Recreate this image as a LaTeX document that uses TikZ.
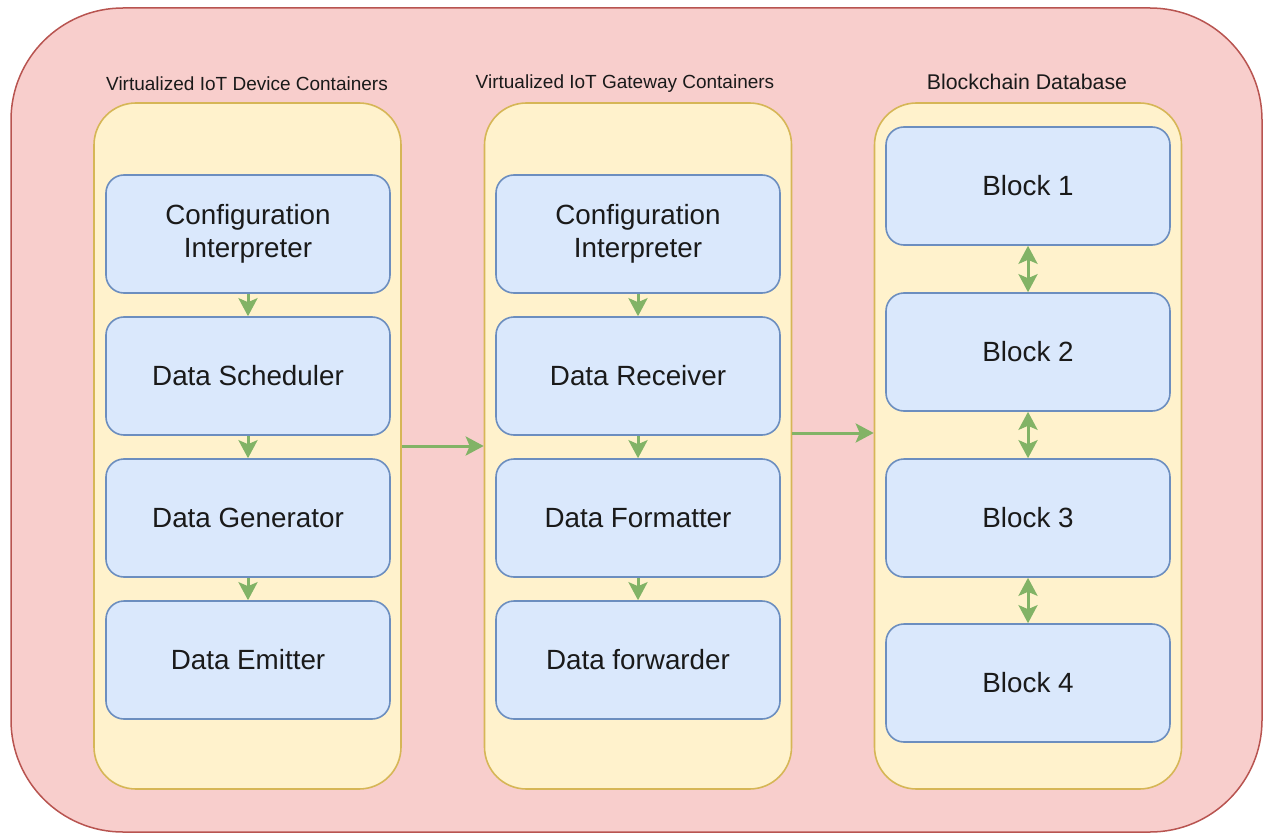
\documentclass[tikz,border=0pt]{standalone}
\usepackage{fontspec}
\setmainfont{Liberation Sans}
\usetikzlibrary{arrows.meta}
\definecolor{redfill}{HTML}{F8CECC}
\definecolor{redline}{HTML}{B85450}
\definecolor{yelfill}{HTML}{FFF2CC}
\definecolor{yelline}{HTML}{D6B656}
\definecolor{bluefill}{HTML}{DAE8FC}
\definecolor{blueline}{HTML}{6C8EBF}
\definecolor{greenline}{HTML}{82B366}
\definecolor{txt}{HTML}{1A1A1A}
\tikzset{
  outerbox/.style={draw=redline, fill=redfill, line width=1.5pt, rounded corners=112pt},
  container/.style={draw=yelline, fill=yelfill, line width=1.6pt, rounded corners=42pt,
    minimum width=307pt, minimum height=686pt, inner sep=0pt},
  module/.style={draw=blueline, fill=bluefill, line width=1.6pt, rounded corners=18pt,
    minimum width=284pt, minimum height=118pt, inner sep=0pt, align=center,
    text=txt, font=\fontsize{27.8}{33}\selectfont},
  caption/.style={text=txt, inner sep=0pt, font=\fontsize{19}{22}\selectfont},
  tip/.style={Stealth[length=18pt,width=19pt,inset=4pt]},
  flow/.style={draw=greenline, line width=3pt, -{Stealth[length=18pt,width=19pt,inset=4pt]}},
  link/.style={draw=greenline, line width=3pt, {Stealth[length=18pt,width=19pt,inset=4pt]}-{Stealth[length=18pt,width=19pt,inset=4pt]}}
}
\begin{document}
\begin{tikzpicture}[x=1pt,y=-1pt]
\useasboundingbox (0,0) rectangle (1265,834);
\draw[outerbox] (11,8) rectangle (1262,832);

% three container columns
\node[container] (c1) at (247.5,446) {};
\node[container] (c2) at (638,446) {};
\node[container] (c3) at (1028,446) {};

\node[caption] (l1) at (247,84) {Virtualized IoT Device Containers};
\node[caption] (l2) at (625,84) {Virtualized IoT Gateway Containers};
\node[caption, font=\fontsize{21.3}{25}\selectfont] (l3) at (1027,82) {Blockchain Database};

% device pipeline
\node[module] (d1) at (248,234) {Configuration\\Interpreter};
\node[module] (d2) at (248,376) {Data Scheduler};
\node[module] (d3) at (248,518) {Data Generator};
\node[module] (d4) at (248,660) {Data Emitter};

% gateway pipeline
\node[module] (g1) at (638,234) {Configuration\\Interpreter};
\node[module] (g2) at (638,376) {Data Receiver};
\node[module] (g3) at (638,518) {Data Formatter};
\node[module] (g4) at (638,660) {Data forwarder};

% chain of blocks
\node[module] (b1) at (1028,186) {Block 1};
\node[module] (b2) at (1028,352) {Block 2};
\node[module] (b3) at (1028,518) {Block 3};
\node[module] (b4) at (1028,683) {Block 4};

\draw[flow] (d1) -- (d2);
\draw[flow] (d2) -- (d3);
\draw[flow] (d3) -- (d4);
\draw[flow] (g1) -- (g2);
\draw[flow] (g2) -- (g3);
\draw[flow] (g3) -- (g4);
\draw[link] (b1) -- (b2);
\draw[link] (b2) -- (b3);
\draw[link] (b3) -- (b4);

\draw[flow] (c1.east) -- (c2.west);
\draw[flow] ([yshift=13pt]c2.east) -- ([yshift=13pt]c3.west);
\end{tikzpicture}
\end{document}
